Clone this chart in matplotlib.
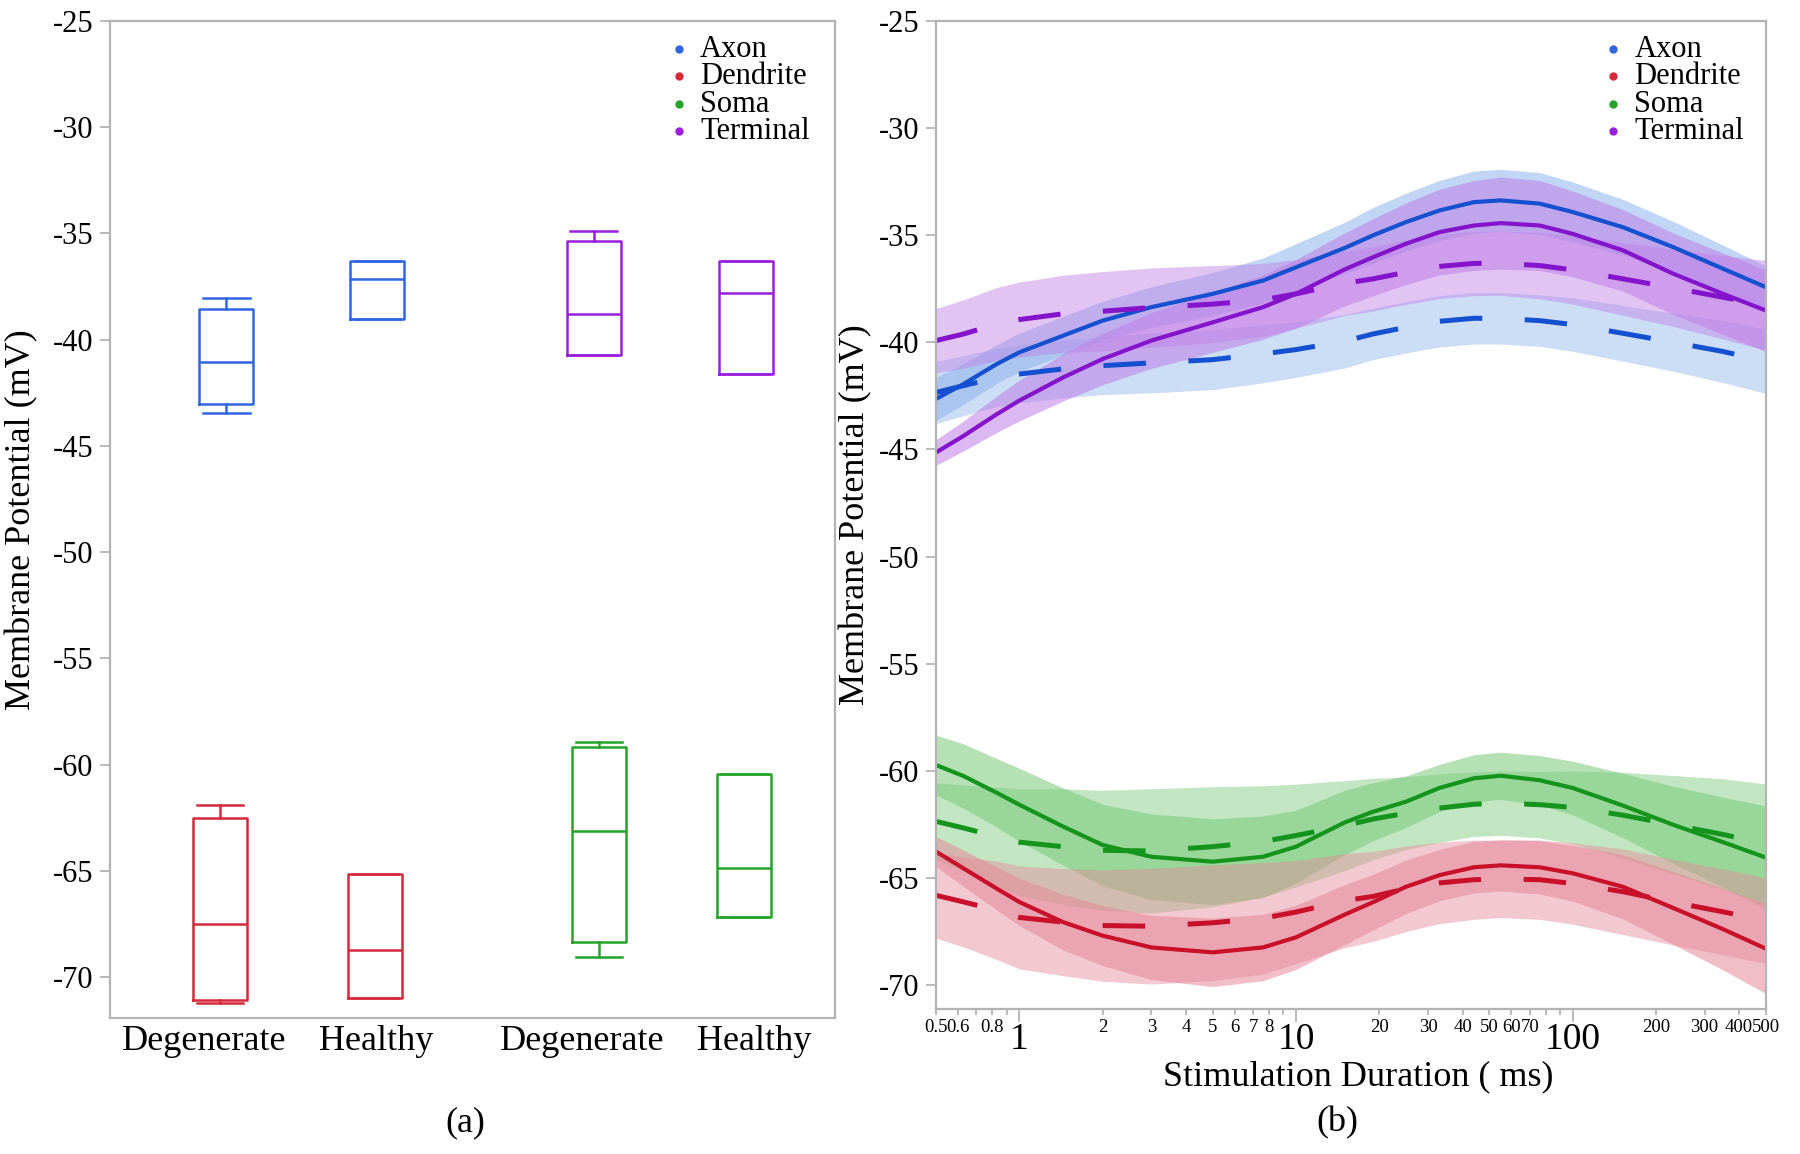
import numpy as np
import matplotlib
matplotlib.use("Agg")
import matplotlib.pyplot as plt

plt.rcParams['font.family'] = ['Liberation Serif', 'DejaVu Serif']
plt.rcParams['axes.unicode_minus'] = False

regions = ['Axon', 'Dendrite', 'Soma', 'Terminal']
colors = {'Axon': '#2f67e0', 'Dendrite': '#d42a3c', 'Soma': '#23a42a', 'Terminal': '#9a1fdc'}
line_colors = {'Axon': '#1550d0', 'Dendrite': '#c8102a', 'Soma': '#14941c', 'Terminal': '#8413cc'}
fill_colors = {'Axon': '#8fb4ec', 'Dendrite': '#e6899a', 'Soma': '#78c978', 'Terminal': '#bf7ee6'}

# ---- panel (a): box statistics
group_labels = ['Degenerate', 'Healthy', 'Degenerate', 'Healthy']
box_region = ['Axon', 'Axon', 'Dendrite', 'Dendrite', 'Terminal', 'Terminal', 'Soma', 'Soma']
box_whislo = [-43.44, -39.03, -71.22, -70.96, -40.72, -41.64, -69.04, -67.16]
box_q1 = [-43.04, -39.03, -71.07, -70.96, -40.72, -41.64, -68.33, -67.16]
box_med = [-41.03, -37.16, -67.49, -68.71, -38.79, -37.82, -63.11, -64.87]
box_q3 = [-38.54, -36.28, -62.49, -65.15, -35.34, -36.28, -59.16, -60.45]
box_whishi = [-38.06, -36.28, -61.91, -65.15, -34.89, -36.28, -58.91, -60.45]

# ---- panel (b): fitted curves (solid / dashed) with confidence half-widths
dur = [0.5, 0.63, 0.83, 1, 1.44, 2, 3, 5, 7.6, 10, 15, 19, 25, 33, 44, 55, 76, 100, 152, 231, 350, 500]

axon_solid = [-42.64, -41.94, -41.01, -40.47, -39.69, -38.99, -38.36, -37.74, -37.12, -36.5, -35.6,
              -35.01, -34.39, -33.85, -33.46, -33.38, -33.53, -33.92, -34.63, -35.56, -36.57, -37.43]
axon_solid_ci = [1.0, 0.95, 0.9, 0.9, 0.9, 0.9, 0.95, 1.0, 1.05, 1.1, 1.2,
                 1.3, 1.35, 1.4, 1.45, 1.45, 1.45, 1.4, 1.3, 1.2, 1.1, 1.0]
axon_dash = [-42.34, -42.02, -41.64, -41.48, -41.24, -41.09, -40.96, -40.81, -40.54, -40.34, -39.95,
             -39.61, -39.3, -39.02, -38.88, -38.88, -38.99, -39.17, -39.58, -40.0, -40.43, -40.89]
axon_dash_ci = [1.45, 1.4, 1.35, 1.35, 1.35, 1.35, 1.4, 1.4, 1.35, 1.3, 1.25,
                1.2, 1.2, 1.2, 1.2, 1.2, 1.2, 1.25, 1.3, 1.35, 1.45, 1.5]
term_solid = [-45.14, -44.36, -43.35, -42.72, -41.64, -40.78, -39.92, -39.07, -38.36, -37.74, -36.6,
              -36.03, -35.4, -34.86, -34.55, -34.44, -34.55, -34.94, -35.71, -36.8, -37.74, -38.52]
term_solid_ci = [0.6, 0.7, 0.85, 0.95, 1.1, 1.2, 1.3, 1.4, 1.5, 1.6, 1.7,
                 1.8, 1.9, 2.0, 2.1, 2.15, 2.1, 2.0, 1.9, 1.9, 1.9, 1.9]
term_dash = [-39.92, -39.61, -39.14, -38.94, -38.67, -38.55, -38.38, -38.22, -38.02, -37.74, -37.25,
             -37.04, -36.73, -36.46, -36.32, -36.31, -36.42, -36.62, -37.04, -37.46, -37.9, -38.28]
term_dash_ci = [1.5, 1.6, 1.7, 1.75, 1.8, 1.85, 1.85, 1.8, 1.7, 1.6, 1.5,
                1.5, 1.5, 1.5, 1.5, 1.5, 1.55, 1.6, 1.7, 1.8, 1.95, 2.1]
soma_solid = [-59.72, -60.24, -61.02, -61.57, -62.59, -63.45, -64.0, -64.23, -64.0, -63.53, -62.4,
              -61.9, -61.43, -60.79, -60.34, -60.22, -60.43, -60.79, -61.61, -62.51, -63.32, -64.04]
soma_solid_ci = [1.4, 1.5, 1.6, 1.7, 1.8, 1.9, 2.0, 2.0, 1.9, 1.7, 1.5,
                 1.35, 1.2, 1.1, 1.1, 1.1, 1.15, 1.25, 1.5, 1.8, 2.1, 2.4]
soma_dash = [-62.35, -62.66, -63.06, -63.32, -63.53, -63.7, -63.73, -63.53, -63.29, -63.01, -62.55,
             -62.24, -61.97, -61.73, -61.55, -61.5, -61.57, -61.7, -62.06, -62.51, -62.96, -63.41]
soma_dash_ci = [1.8, 2.0, 2.3, 2.5, 2.7, 2.8, 2.9, 2.8, 2.6, 2.4, 2.1,
                1.9, 1.7, 1.6, 1.5, 1.5, 1.55, 1.7, 2.0, 2.3, 2.6, 2.8]
dend_solid = [-63.76, -64.55, -65.49, -66.11, -67.05, -67.68, -68.23, -68.46, -68.23, -67.76, -66.7,
              -66.12, -65.4, -64.86, -64.49, -64.4, -64.49, -64.77, -65.4, -66.39, -67.38, -68.29]
dend_solid_ci = [0.7, 0.85, 1.0, 1.1, 1.3, 1.4, 1.5, 1.6, 1.55, 1.5, 1.4,
                 1.3, 1.25, 1.2, 1.2, 1.2, 1.25, 1.3, 1.5, 1.7, 1.9, 2.1]
dend_dash = [-65.8, -66.11, -66.5, -66.83, -67.05, -67.21, -67.24, -67.08, -66.87, -66.58, -66.05,
             -65.85, -65.49, -65.22, -65.07, -65.04, -65.07, -65.25, -65.63, -66.12, -66.57, -66.99]
dend_dash_ci = [2.0, 2.1, 2.3, 2.4, 2.5, 2.6, 2.7, 2.7, 2.6, 2.4, 2.2,
                2.1, 2.0, 1.9, 1.85, 1.8, 1.85, 1.9, 2.0, 2.0, 2.0, 2.0]

curves = [
    ('Soma', soma_dash, soma_dash_ci, soma_solid, soma_solid_ci),
    ('Dendrite', dend_dash, dend_dash_ci, dend_solid, dend_solid_ci),
    ('Axon', axon_dash, axon_dash_ci, axon_solid, axon_solid_ci),
    ('Terminal', term_dash, term_dash_ci, term_solid, term_solid_ci),
]

fig = plt.figure(figsize=(18, 11.54), dpi=100)
ax1 = fig.add_axes([0.0611, 0.1181, 0.4028, 0.8639])
ax2 = fig.add_axes([0.52, 0.1257, 0.4611, 0.8563])

spine_col = '#b4b4b4'
for ax in (ax1, ax2):
    for s in ax.spines.values():
        s.set_color(spine_col)
        s.set_linewidth(1.6)
    ax.tick_params(axis='y', colors=spine_col, labelcolor='black', labelsize=22,
                   length=7, width=1.3, pad=5)
    ax.set_yticks(np.arange(-70, -24, 5))
    ax.set_ylabel('Membrane Potential (mV)', fontsize=26)
ax1.yaxis.set_label_coords(-0.099, 0.5)
ax2.yaxis.set_label_coords(-0.077, 0.5)

# panel (a)
label_pos = [0, 1, 2.2, 3.2]
box_pos = [0.13, 1.006, 0.094, 0.994, 2.264, 3.147, 2.296, 3.14]
for i in range(len(box_region)):
    st = dict(whislo=box_whislo[i], q1=box_q1[i], med=box_med[i], q3=box_q3[i], whishi=box_whishi[i])
    c = colors[box_region[i]]
    ax1.bxp([st], positions=[box_pos[i]], widths=0.314, showfliers=False,
            boxprops=dict(color=c, linewidth=1.8),
            medianprops=dict(color=c, linewidth=1.8),
            whiskerprops=dict(color=c, linewidth=1.8),
            capprops=dict(color=c, linewidth=1.8), capwidths=0.27)
ax1.set_xlim(-0.547, 3.667)
ax1.set_ylim(-71.9, -25)
ax1.set_xticks(label_pos)
ax1.set_xticklabels(group_labels, fontsize=26)
ax1.tick_params(axis='x', length=0, pad=5)

# panel (b)
for name, dmean, dci, smean, sci in curves:
    dmean = np.array(dmean); dci = np.array(dci)
    smean = np.array(smean); sci = np.array(sci)
    ax2.fill_between(dur, dmean - dci, dmean + dci, color=fill_colors[name], alpha=0.45, linewidth=0)
    ax2.fill_between(dur, smean - sci, smean + sci, color=fill_colors[name], alpha=0.55, linewidth=0)
for name, dmean, dci, smean, sci in curves:
    ax2.plot(dur, dmean, color=line_colors[name], linewidth=3.6, dashes=(8.5, 8.5))
    ax2.plot(dur, smean, color=line_colors[name], linewidth=3)

ax2.set_xscale('log')
ax2.set_xlim(0.5, 500)
ax2.set_ylim(-71.1, -25)
major = [1, 10, 100]
minor = [0.5, 0.6, 0.7, 0.8, 0.9, 2, 3, 4, 5, 6, 7, 8, 9, 20, 30, 40, 50, 60, 70, 80, 90, 200, 300, 400, 500]
minor_lab = ['0.5', '0.6', '', '0.8', '', '2', '3', '4', '5', '6', '7', '8', '', '20', '30', '40',
             '50', '60', '70', '', '', '200', '300', '400', '500']
ax2.set_xticks(major)
ax2.set_xticklabels([str(m) for m in major], fontsize=27)
ax2.set_xticks(minor, minor=True)
ax2.set_xticklabels(minor_lab, minor=True, fontsize=13.5)
ax2.tick_params(axis='x', which='major', colors=spine_col, labelcolor='black', length=9, width=1.3, pad=1)
ax2.tick_params(axis='x', which='minor', colors=spine_col, labelcolor='black', length=4.5, width=1.3, pad=3)

fig.text(1358 / 1800, 1 - 1077 / 1154, 'Stimulation Duration ( ms)', fontsize=26, ha='center', va='center')
fig.text(465 / 1800, 1 - 1123 / 1154, '(a)', fontsize=26, ha='center', va='center')
fig.text(1337 / 1800, 1 - 1123 / 1154, '(b)', fontsize=26, ha='center', va='center')

for ax, anchor in ((ax1, (0.755, 0.995)), (ax2, (0.79, 0.995))):
    handles = [ax.scatter([], [], s=25, color=colors[r]) for r in regions]
    ax.legend(handles, regions, loc='upper left', frameon=False, fontsize=22,
              handletextpad=0.3, labelspacing=-0.05, borderaxespad=0.2, borderpad=0.1,
              bbox_to_anchor=anchor, handlelength=0.8)

fig.savefig('out.png', dpi=100)
